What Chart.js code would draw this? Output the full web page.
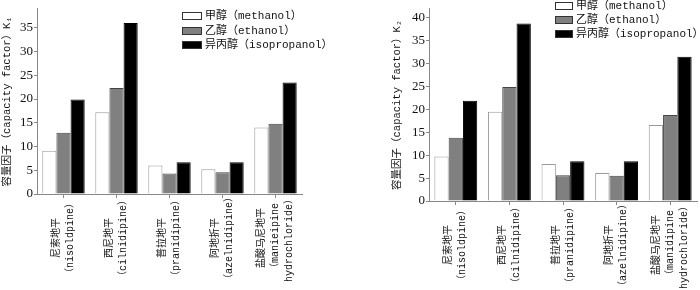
<!DOCTYPE html>
<html lang="zh">
<head>
<meta charset="UTF-8">
<title>容量因子 K1 / K2</title>
<script src="https://cdn.jsdelivr.net/npm/chart.js"></script>
<style>
  body { margin: 0; background: #fff; }
  .wrap { position: relative; width: 700px; height: 290px; }
  #k1 { position: absolute; left: 0; top: 0; }
  #k2 { position: absolute; left: 350px; top: 0; }
</style>
</head>
<body>
<div class="wrap">
  <canvas id="k1" width="350" height="290"></canvas>
  <canvas id="k2" width="350" height="290"></canvas>
</div>
<script>
// categories (one array of lines per drug)
const drugsK1 = [
  ['尼索地平', '（nisoldpine）'],
  ['西尼地平', '（cilnidipine）'],
  ['普拉地平', '（pranidipine）'],
  ['阿地折平', '（azelnidipine）'],
  ['盐酸马尼地平', '（manieipine', 'hydrochloride）']
];
const drugsK2 = [
  ['尼索地平', '（nisoldpine）'],
  ['西尼地平', '（cilnidipine）'],
  ['普拉地平', '（pranidipine）'],
  ['阿地折平', '（azelnidipine）'],
  ['盐酸马尼地平', '（manidipine', 'hydrochloride）']
];
const solvents = ['甲醇（methanol）', '乙醇（ethanol）', '异丙醇（isopropanol）'];

// capacity factor K1 (left panel)
const methanolK1 = [9.1, 17.2, 6.0, 5.2, 14.0];
const ethanolK1 = [12.9, 22.3, 4.3, 4.6, 14.8];
const isopropanolK1 = [19.9, 36.0, 6.7, 6.7, 23.5];

// capacity factor K2 (right panel)
const methanolK2 = [9.7, 19.5, 8.1, 6.1, 16.6];
const ethanolK2 = [13.8, 24.9, 5.6, 5.5, 18.8];
const isopropanolK2 = [21.9, 38.8, 8.7, 8.7, 31.5];

const yStep = 5;

const TEXT_FONT = "'Liberation Mono', 'Noto Sans CJK SC', 'DejaVu Sans Mono'";
const fills = ['#ffffff', '#808080', '#000000'];
const edges = ['#9a9a9a', '#444444', '#000000'];

// rotated, centred multi-line drug names under each bar group
const drugLabels = {
  id: 'drugLabels',
  afterDraw(chart, args, opts) {
    const xs = chart.scales.x, ctx = chart.ctx;
    ctx.save();
    ctx.font = '10px ' + TEXT_FONT;
    ctx.fillStyle = '#111';
    ctx.textAlign = 'center';
    ctx.textBaseline = 'middle';
    chart.data.labels.forEach((lines, i) => {
      const cx = xs.getPixelForTick(i);
      const cy = xs.top + opts.drop;
      lines.forEach((s, j) => {
        const dx = (j - (lines.length - 1) / 2) * opts.gap;
        ctx.save();
        ctx.translate(cx + dx, cy);
        ctx.rotate(-Math.PI / 2);
        ctx.fillText(s, 0, 0);
        ctx.restore();
      });
    });
    ctx.restore();
  }
};

const solventLegend = {
  id: 'solventLegend',
  afterDraw(chart, args, opts) {
    const ctx = chart.ctx;
    ctx.save();
    chart.data.datasets.forEach((ds, i) => {
      const y = Math.round(opts.y + i * opts.gap);
      ctx.fillStyle = ds.backgroundColor;
      ctx.fillRect(opts.x, y - 4, opts.w, 8);
      ctx.strokeStyle = '#333';
      ctx.lineWidth = 1;
      ctx.strokeRect(opts.x + 0.5, y - 3.5, opts.w - 1, 7);
      ctx.fillStyle = '#111';
      ctx.font = '11px ' + TEXT_FONT;
      ctx.textAlign = 'left';
      ctx.textBaseline = 'middle';
      ctx.fillText(ds.label, opts.x + opts.w + 3, y + 0.5);
    });
    ctx.restore();
  }
};

function makeChart(id, labels, series, yMax, title, box) {
  return new Chart(document.getElementById(id), {
    type: 'bar',
    data: {
      labels: labels,
      datasets: series.map((vals, i) => ({
        label: solvents[i],
        data: vals,
        backgroundColor: fills[i],
        borderColor: edges[i],
        borderWidth: 1,
        categoryPercentage: 0.8,
        barPercentage: 1.0
      }))
    },
    plugins: [drugLabels, solventLegend],
    options: {
      responsive: false,
      animation: false,
      layout: { padding: box.padding },
      plugins: {
        legend: { display: false },
        tooltip: { enabled: false },
        drugLabels: { drop: 44, gap: 14 },
        solventLegend: box.legend
      },
      scales: {
        x: {
          grid: { display: true, drawOnChartArea: false, drawTicks: true, tickLength: 4, offset: false, color: '#888' },
          border: { color: '#888', width: 1 },
          ticks: { display: false },
          afterFit(s) { s.height = box.xHeight; }
        },
        y: {
          min: 0,
          max: yMax,
          grid: { display: true, drawOnChartArea: false, drawTicks: true, tickLength: 3, color: '#888' },
          border: { color: '#888', width: 1 },
          ticks: {
            stepSize: yStep,
            padding: 1,
            color: '#111',
            font: { family: "'Liberation Serif', 'DejaVu Serif', serif", size: 13 }
          },
          afterBuildTicks(s) {
            const t = [];
            for (let v = 0; v <= yMax; v += yStep) t.push({ value: v });
            s.ticks = t;
          },
          title: {
            display: true,
            text: title,
            color: '#111',
            padding: { top: 1, bottom: 0 },
            font: { family: TEXT_FONT, size: 10.5 }
          },
          afterFit(s) { s.width = box.yWidth; }
        }
      }
    }
  });
}

makeChart('k1', drugsK1, [methanolK1, ethanolK1, isopropanolK1], 39,
  '容量因子（capacity factor）K₁',
  { padding: { left: 0, right: 48, top: 2, bottom: 0 }, yWidth: 37, xHeight: 96,
    legend: { x: 182, y: 16, gap: 14.5, w: 20 } });

makeChart('k2', drugsK2, [methanolK2, ethanolK2, isopropanolK2], 42,
  '容量因子（capacity factor）K₂',
  { padding: { left: 40, right: 3, top: 2, bottom: 0 }, yWidth: 39, xHeight: 89,
    legend: { x: 205, y: 6, gap: 14, w: 18 } });
</script>
</body>
</html>
